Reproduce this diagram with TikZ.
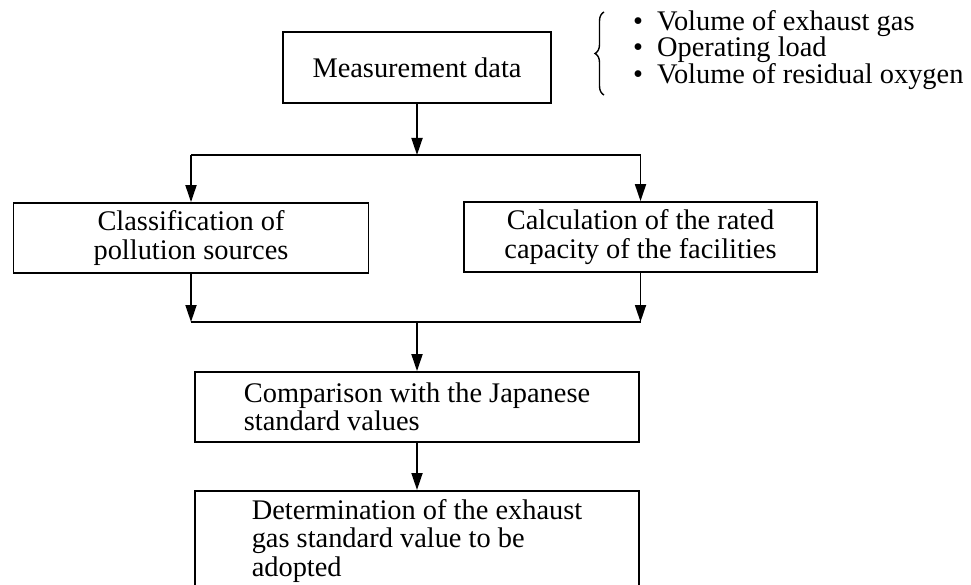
\documentclass[tikz,border=0pt]{standalone}
\usepackage{fontspec}
\setmainfont{Liberation Serif}
\usetikzlibrary{arrows.meta,calc,positioning,decorations.pathreplacing}

\newcommand{\itemfont}{\fontsize{28.4}{26.5}\selectfont\lineskiplimit=-30pt\relax}

\tikzset{
  flowbox/.style={draw, line width=1.8pt, inner sep=0pt, align=center,
    font=\fontsize{28.4}{28.5}\selectfont},
  flowline/.style={line width=1.8pt},
  flowarrow/.style={line width=1.8pt, -{Triangle[length=17pt,width=11pt]}}
}

\begin{document}
\begin{tikzpicture}[x=1pt,y=-1pt]
    \useasboundingbox (0,0) rectangle (971,585);
    \node[flowbox, minimum width=268pt, minimum height=71pt] (meas) at (417,67.5) {Measurement data};
    \node[flowbox, minimum width=355pt, minimum height=70pt] (classif) at (191,238) {Classification of\\pollution sources};
    \node[flowbox, minimum width=353pt, minimum height=70pt] (calc) at (640.5,237) {Calculation of the rated\\capacity of the facilities};
    \node[flowbox, align=left, minimum width=444pt, minimum height=70pt] (compar) at (417,407) {Comparison with the Japanese\\standard values};
    \node[flowbox, align=left, anchor=north, minimum width=444pt, minimum height=100pt] (determ) at (417,490) {Determination of the exhaust\\gas standard value to be\\adopted};
    \node[anchor=west, inner sep=0pt, align=left, font=\itemfont] (items) at (633,50)
      {\textbullet\hspace{14pt}Volume of exhaust gas\\\textbullet\hspace{14pt}Operating load\\\textbullet\hspace{14pt}Volume of residual oxygen};
    \coordinate (bracetop) at (604,12);
    \coordinate (bracebot) at (604,95);
    \coordinate (jtop) at (417,155);
    \coordinate (jbot) at (417,322);
    \draw[line width=1.4pt, decorate, decoration={brace, amplitude=9pt}] (bracebot) -- (bracetop);
    \draw[flowarrow] (meas.south) -- (meas.south |- jtop);
    \draw[flowline] (classif.north |- jtop) -- (calc.north |- jtop);
    \draw[flowarrow] (classif.north |- jtop) -- (classif.north);
    \draw[flowarrow] (calc.north |- jtop) -- (calc.north);
    \draw[flowarrow] (classif.south) -- (classif.south |- jbot);
    \draw[flowarrow] (calc.south) -- (calc.south |- jbot);
    \draw[flowline] (classif.south |- jbot) -- (calc.south |- jbot);
    \draw[flowarrow] (jbot) -- (compar.north);
    \draw[flowarrow] (compar.south) -- (determ.north);
\end{tikzpicture}
\end{document}
